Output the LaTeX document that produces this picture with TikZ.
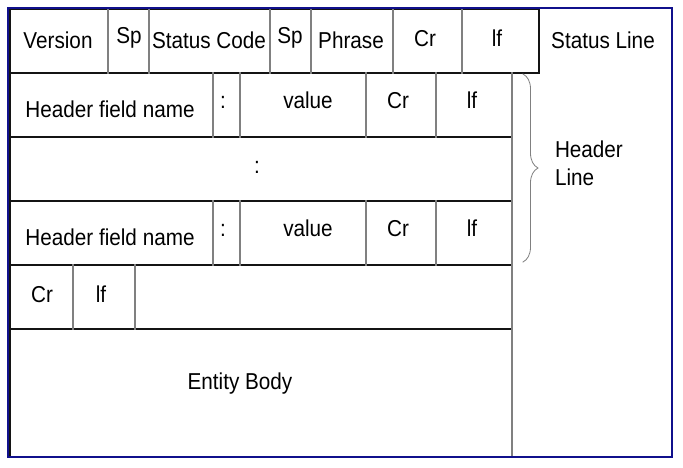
\documentclass[tikz,border=0pt]{standalone}
\usepackage{fontspec}
\setmainfont{Liberation Sans}[FakeStretch=0.9]
\usepackage{tikz}
\usetikzlibrary{decorations.pathreplacing}

\begin{document}
\begin{tikzpicture}[x=1pt,y=-1pt,line cap=rect]
	\def\httpfont#1{\fontsize{23pt}{23pt}\selectfont #1}
	\definecolor{custcol_frame}{RGB}{16, 16, 140}
	\definecolor{custcol_grid}{RGB}{128, 128, 128}
	\definecolor{custcol_rule}{RGB}{20, 20, 20}
	\tikzset{
		hrule/.style={line width=1.2pt, custcol_rule},
		vrule/.style={line width=1.2pt, custcol_grid},
		cell/.style={inner sep=0, outer sep=0, anchor=base, black},
	}
	\useasboundingbox (0,0) rectangle (683,467);
	\fill [white] (0,0) rectangle (683,467);
	% status line
	\draw [hrule] (10,9) -- (539,9) -- (539,73) -- (10,73) -- cycle;
	\foreach \xx in {108,149,270,311,393,462}
		\draw [vrule] (\xx,9) -- (\xx,73);
	\node [cell] (version) at (58,48) {\httpfont{Version}};
	\node [cell] (spA) at (129,43) {\httpfont{Sp}};
	\node [cell] (code) at (209,48) {\httpfont{Status Code}};
	\node [cell] (spB) at (290,43) {\httpfont{Sp}};
	\node [cell] (phrase) at (351,48) {\httpfont{Phrase}};
	\node [cell] (crA) at (425,46) {\httpfont{Cr}};
	\node [cell] (lfA) at (497,46) {\httpfont{lf}};
	\node [cell] (statusline) at (603,48) {\httpfont{Status Line}};
	% header lines
	\foreach \yy in {137,201,265,329}
		\draw [hrule] (10,\yy) -- (512,\yy);
	\draw [hrule] (10,73) -- (10,457);
	\draw [vrule] (512,73) -- (512,457);
	\foreach \yy in {73,201}
		\foreach \xx in {213,240,366,436}
			\draw [vrule] (\xx,\yy) -- (\xx,\yy+64);
	\node [cell] (nameA) at (110,117) {\httpfont{Header field name}};
	\node [cell] (colonA) at (223,108) {\httpfont{:}};
	\node [cell] (valueA) at (308,108) {\httpfont{value}};
	\node [cell] (crB) at (398,108) {\httpfont{Cr}};
	\node [cell] (lfB) at (472,108) {\httpfont{lf}};
	\node [cell] (dots) at (257,173) {\httpfont{:}};
	\node [cell] (nameB) at (110,245) {\httpfont{Header field name}};
	\node [cell] (colonB) at (223,236) {\httpfont{:}};
	\node [cell] (valueB) at (308,236) {\httpfont{value}};
	\node [cell] (crC) at (398,236) {\httpfont{Cr}};
	\node [cell] (lfC) at (472,236) {\httpfont{lf}};
	% empty line
	\foreach \xx in {73,135}
		\draw [vrule] (\xx,265) -- (\xx,329);
	\node [cell] (crD) at (42,302) {\httpfont{Cr}};
	\node [cell] (lfD) at (101,302) {\httpfont{lf}};
	% body
	\node [cell] (body) at (240,389) {\httpfont{Entity Body}};
	% brace
	\draw [line width=0.8pt, custcol_grid, decorate, decoration={brace, amplitude=15pt}]  (523,74) -- (523,262);
	\node [cell, anchor=base west] (header) at (555,157) {\httpfont{Header}};
	\node [cell, anchor=base west] (line) at (555,185) {\httpfont{Line}};
	% frame
	\draw [line width=2.2pt, custcol_frame] (8,8) rectangle (672,457);
\end{tikzpicture}
\end{document}
